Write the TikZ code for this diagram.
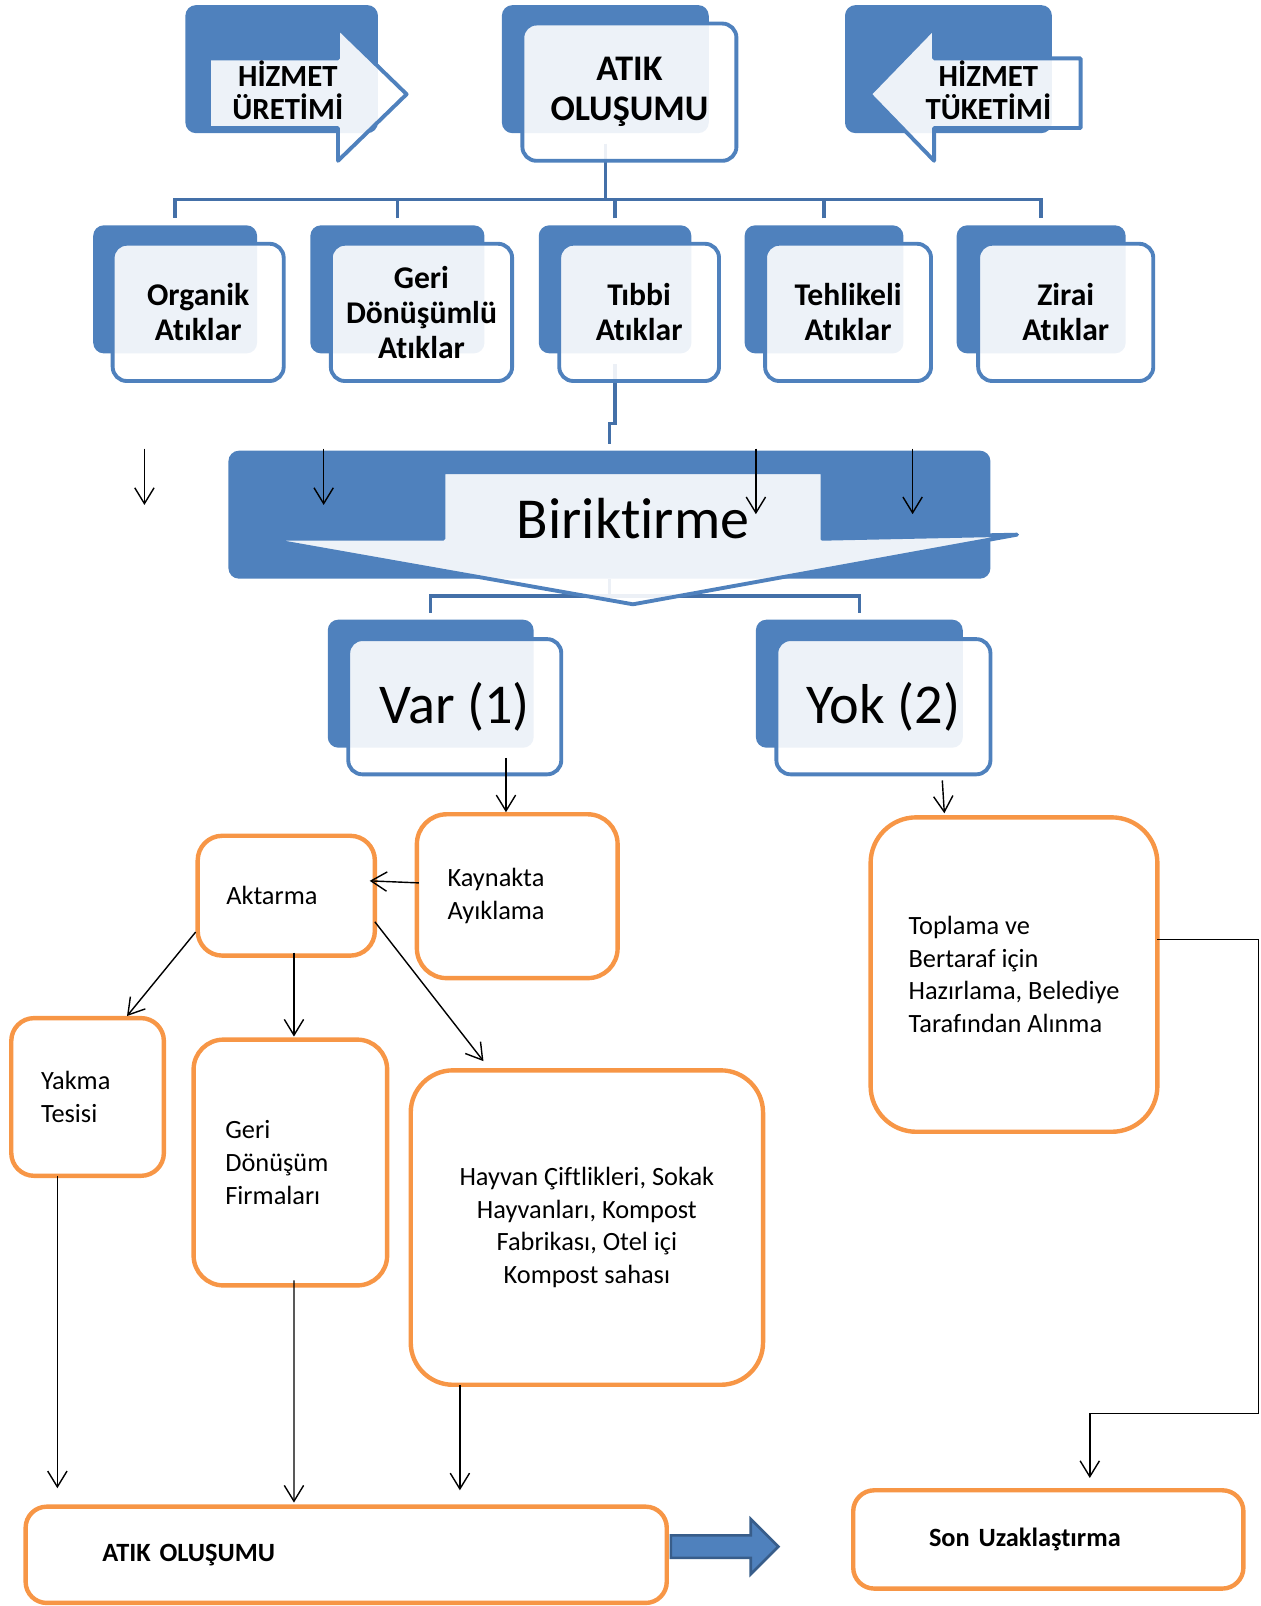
\documentclass[tikz,border=0pt]{standalone}
\usepackage{fontspec}
\setmainfont{Carlito}[Ligatures=CommonOff]
\usepackage{tikz}
\usetikzlibrary{positioning, arrows.meta, calc}

\definecolor{boxblue}{HTML}{4F81BD}
\definecolor{lineblue}{HTML}{4470A8}
\definecolor{edgeblue}{HTML}{385D8A}
\definecolor{boxorange}{HTML}{F79646}
\newcommand{\unitpx}{0.5829pt}

\begin{document}
\begin{tikzpicture}[
    x=0.20488mm, y=-0.20488mm,
    sz/.style 2 args={minimum width=#1*\unitpx, minimum height=#2*\unitpx},
    backbox/.style={fill=boxblue, rounded corners=6pt, inner sep=0pt, outer sep=0pt},
    frontbox/.style={draw=boxblue, line width=2.2pt, fill=white, fill opacity=0.9, text opacity=1, rounded corners=8pt, inner sep=0pt, outer sep=0pt, align=center},
    lightarrow/.style={draw=boxblue, line width=2.2pt, fill=white, fill opacity=0.9, line join=round},
    orgline/.style={draw=lineblue, line width=2pt},
    obox/.style={draw=boxorange, line width=2.5pt, fill=white, inner sep=0pt, outer sep=0pt, font=\fontsize{15}{18.6}\selectfont},
    arr/.style={-{Straight Barb[length=9pt, width=11pt]}, line width=0.8pt},
    blockarrow/.style={fill=boxblue, draw=edgeblue, line width=1.5pt},
    toptxt/.style={font=\fontsize{17.5}{19.2}\selectfont\bfseries, align=center},
    midtxt/.style={font=\fontsize{18}{20}\selectfont\bfseries},
    bigtxt/.style={font=\fontsize{32}{36}\selectfont},
]
\useasboundingbox (0,0) rectangle (1231,1568);

% dark backing boxes
\node[backbox, sz={188}{125}] (uretimback) at (275,67.5) {};
\node[backbox, sz={202}{125}] (atikback) at (591,67.5) {};
\node[backbox, sz={202}{125}] (tuketimback) at (926,67.5) {};
\node[backbox, sz={160}{125}] (organikback) at (171,282.5) {};
\node[backbox, sz={170}{125}] (geriback) at (388,282.5) {};
\node[backbox, sz={149}{125}] (tibbiback) at (600.5,282.5) {};
\node[backbox, sz={155}{125}] (tehlikeback) at (804.5,282.5) {};
\node[backbox, sz={165}{125}] (ziraiback) at (1016.5,282.5) {};
\node[backbox, sz={744}{125}] (birikback) at (595,502.5) {};
\node[backbox, sz={201}{125}] (varback) at (420.5,667.5) {};
\node[backbox, sz={202}{125}] (yokback) at (839,667.5) {};

% tree lines
\draw[orgline] ([yshift=-6pt]atikback.south) |- ([yshift=14.6pt]organikback.north) -- ([yshift=4pt]organikback.north);
\draw[orgline] ([yshift=14.6pt]organikback.north) -| ([yshift=4pt]ziraiback.north);
\foreach \b in {geriback, tibbiback, tehlikeback}
  \draw[orgline] ([yshift=4pt]\b.north) -- ++(0,-18);
\draw[orgline] ([yshift=-6pt]tibbiback.south) -- ++(0,58) -| ([yshift=4pt]birikback.north);
\draw[orgline] (birikback.south) |- ([yshift=13.4pt]varback.north) -- ([yshift=4pt]varback.north);
\draw[orgline] ([yshift=13.4pt]varback.north) -| ([yshift=4pt]yokback.north);

% light arrows
\draw[lightarrow] (204,57) -- (330,57) -- (330,27) -- (397,92) -- (330,157) -- (330,125) -- (204,125) -- cycle;
\draw[lightarrow] (1055,57) -- (912,57) -- (912,27) -- (849,92) -- (912,157) -- (912,125) -- (1055,125) -- cycle;
\draw[lightarrow] (433,461) -- (803,461) -- (803,526) -- (993,522) -- (618,590) -- (256,526) -- (433,526) -- cycle;

% front boxes
\node[frontbox, sz={209}{134}, font=\fontsize{20.5}{22.7}\selectfont\bfseries] (atik) at (614.5,90) {ATIK\\OLUŞUMU};
\node[toptxt] (uretim) at (281,88) {HİZMET\\ÜRETİMİ};
\node[toptxt] (tuketim) at (965,88) {HİZMET\\TÜKETİMİ};
\node[frontbox, midtxt, sz={167}{134}] (organik) at (193.5,305) {Organik\\Atıklar};
\node[frontbox, midtxt, sz={177}{134}] (geri) at (411.5,305) {Geri\\Dönüşümlü\\Atıklar};
\node[frontbox, midtxt, sz={156}{134}] (tibbi) at (624,305) {Tıbbi\\Atıklar};
\node[frontbox, midtxt, sz={162}{134}] (tehlike) at (828,305) {Tehlikeli\\Atıklar};
\node[frontbox, midtxt, sz={171}{134}] (zirai) at (1040.5,305) {Zirai\\Atıklar};
\node[font=\fontsize{33}{40}\selectfont] (birik) at (618,506) {Biriktirme};
\node[frontbox, bigtxt, sz={208}{132}] (var) at (444,690) {Var (1)};
\node[frontbox, bigtxt, sz={209}{132}] (yok) at (862.5,690) {Yok (2)};

% orange boxes
\node[obox, sz={196}{160}, rounded corners=17pt, text width=79.3pt, align=left] (kaynak) at (505,875) {Kaynakta\\Ayıklama};
\node[obox, sz={173}{117}, rounded corners=14pt, text width=68.2pt, align=left] (aktarma) at (279.5,874.5) {Aktarma};
\node[obox, sz={280}{307}, rounded corners=26pt, align=left] (toplama) at (990,951.5) {Toplama ve\\Bertaraf için\\Hazırlama, Belediye\\Tarafından Alınma};
\node[obox, sz={149}{154}, rounded corners=13pt, text width=53pt, align=left] (yakma) at (85.5,1071) {Yakma\\Tesisi};
\node[obox, sz={189}{240}, rounded corners=17pt, text width=74pt, align=left] (firma) at (283.5,1135) {Geri\\Dönüşüm\\Firmaları};
\node[obox, sz={344}{307}, rounded corners=24pt, align=center] (hayvan) at (573,1198.5) {Hayvan Çiftlikleri, Sokak\\Hayvanları, Kompost\\Fabrikası, Otel içi\\Kompost sahası};
\node[obox, sz={626}{94}, rounded corners=12pt, text width=277.5pt, align=left, font=\fontsize{15}{18}\selectfont\bfseries] (atikson) at (338,1518) {ATIK OLUŞUMU};
\node[obox, sz={381}{96}, rounded corners=12pt, text width=135.8pt, align=left, font=\fontsize{15}{18}\selectfont\bfseries] (son) at (1023.5,1503) {Son Uzaklaştırma};

% flow arrows
\draw[arr] ($(var.south)+(50,-16)$) -- ($(kaynak.north)+(-11,-2)$);
\draw[arr] ($(yok.south)+(57.5,6)$) -- ($(toplama.north)+(-68,-4)$);
\draw[arr] ($(kaynak.west)+(2,-13)$) -- ($(aktarma.east)+(-5,-14.5)$);
\draw[arr] ($(aktarma.west)+(-2,35.5)$) -- ($(yakma.north)+(38.5,-2)$);
\draw[arr] ($(aktarma.south)+(7.5,-3)$) -- ($(firma.north)+(3.5,-3)$);
\draw[arr] ($(aktarma.east)+(0,25.5)$) -- ($(hayvan.north)+(-101,-9)$);
\draw[arr] ($(yakma.south)+(-29.5,0)$) -- ($(atikson.north)+(-282,-18)$);
\draw[arr] ($(firma.south)+(3.5,-5)$) -- ($(atikson.north)+(-51,-4)$);
\draw[arr] ($(hayvan.south)+(-124,0)$) -- ($(atikson.north)+(111,-16)$);
\draw[arr] ($(toplama.east)+(0,-34.5)$) -- ++(99,0) |- ($(son.north)+(40.5,-75)$) -- ($(son.north)+(40.5,-12)$);

% loose arrows over Biriktirme
\foreach \x/\e [count=\i] in {141/493, 316/493, 738/502, 891/502} {
  \coordinate (top\i) at (\x,438);
  \coordinate (end\i) at (\x,\e);
  \draw[arr] (top\i) -- (end\i);
}

% block arrow
\coordinate (blk) at ($(atikson.east)+(4,-8)$);
\draw[blockarrow] (blk) ++(0,-11) -- ++(78,0) -- ++(0,-16) -- ++(27,27) -- ++(-27,27) -- ++(0,-16) -- ++(-78,0) -- cycle;
\end{tikzpicture}
\end{document}
